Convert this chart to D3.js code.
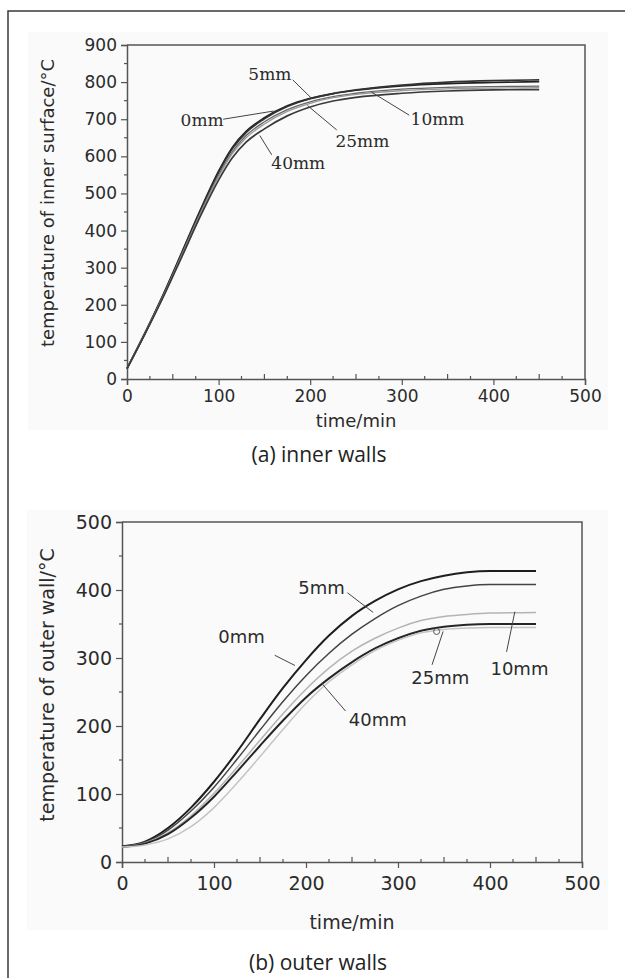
<!DOCTYPE html>
<html>
<head>
<meta charset="utf-8">
<script src="https://cdn.jsdelivr.net/npm/d3@7"></script>
<style>
  body { margin: 0; background: #fff; }
  svg { display: block; }
</style>
</head>
<body>
<svg id="fig" width="625" height="978"></svg>
<script>
'use strict';

// ---- data ----
var seriesNames = ['0mm', '5mm', '10mm', '25mm', '40mm'];

// (a) inner walls
var innerTime = [0, 20, 40, 60, 80, 100, 115, 130, 150, 175, 200, 225, 250, 300, 350, 400, 450];
var inner0  = [28, 126, 230, 342, 455, 560, 624, 667, 704, 736, 756, 769, 778, 790, 796, 799, 801];
var inner5  = [28, 125, 228, 340, 452, 556, 620, 664, 701, 734, 755, 769, 779, 792, 800, 804, 806];
var inner10 = [28, 124, 226, 336, 447, 549, 612, 656, 693, 726, 747, 761, 770, 781, 786, 788, 789];
var inner25 = [28, 124, 225, 334, 444, 545, 607, 650, 687, 721, 743, 758, 767, 777, 782, 784, 785];
var inner40 = [28, 123, 223, 330, 438, 536, 596, 638, 674, 709, 733, 749, 759, 770, 776, 779, 780];

// (b) outer walls
var outerTime = [0, 25, 50, 75, 100, 125, 150, 175, 200, 225, 250, 275, 300, 325, 350, 375, 400, 450];
var outer0  = [23, 30, 50, 80, 118, 162, 210, 256, 297, 333, 362, 384, 401, 413, 421, 426, 428, 428];
var outer5  = [23, 29, 47, 75, 110, 151, 194, 236, 274, 307, 335, 358, 377, 391, 401, 406, 408, 408];
var outer10 = [22, 28, 43, 68, 101, 139, 179, 218, 254, 285, 310, 329, 344, 355, 361, 364, 366, 367];
var outer25 = [22, 27, 41, 65, 96, 133, 171, 208, 242, 270, 294, 314, 329, 340, 346, 349, 350, 350];
var outer40 = [22, 25, 34, 52, 80, 116, 155, 195, 233, 265, 290, 311, 326, 337, 342, 344, 345, 345];

var xTicks = [0, 100, 200, 300, 400, 500];
var innerYTicks = [0, 100, 200, 300, 400, 500, 600, 700, 800, 900];
var outerYTicks = [0, 100, 200, 300, 400, 500];

// labels with leader lines, in data units: [label, textX, textY, lineX1, lineY1, lineX2, lineY2]
var innerNotes = [
  ['0mm', 82, 698, 105, 700, 160, 722],
  ['5mm', 156, 822, 181, 806, 202, 755],
  ['25mm', 257, 641, 229, 671, 197, 737],
  ['40mm', 187, 582, 158, 604, 145, 656],
  ['10mm', 339, 700, 308, 711, 267, 773]
];
var outerNotes = [
  ['5mm', 217, 404, 245, 396, 273, 367],
  ['0mm', 130, 331, 166, 304, 188, 289],
  ['25mm', 346, 271, 337, 290, 349, 339],
  ['10mm', 432, 285, 418, 309, 427, 368],
  ['40mm', 278, 209, 243, 222, 217, 263]
];

var svg = d3.select('#fig');
var ink = '#2b2b2b';

// outer frame of the figure (cropped on the right and bottom)
svg.append('path')
    .attr('d', 'M625,11H8V978')
    .attr('fill', 'none')
    .attr('stroke', '#3a3a3a')
    .attr('stroke-width', 1.5);

function drawPanel(cfg) {
  var g = svg.append('g');

  g.append('rect')
      .attr('x', cfg.bg[0]).attr('y', cfg.bg[1])
      .attr('width', cfg.bg[2]).attr('height', cfg.bg[3])
      .attr('fill', '#fafafa');

  var x = d3.scaleLinear().domain([0, 500]).range([cfg.left, cfg.right]);
  var y = d3.scaleLinear().domain([0, cfg.yMax]).range([cfg.bottom, cfg.top]);

  // minor ticks
  var minorX = d3.range(25, 500, 25).filter(function(v) { return v % 100 !== 0; });
  g.selectAll('.mx').data(minorX).enter().append('line')
      .attr('x1', function(d) { return x(d); })
      .attr('x2', function(d) { return x(d); })
      .attr('y1', cfg.bottom)
      .attr('y2', function(d) { return cfg.bottom - (d % 50 === 0 ? 5 : 3); })
      .attr('stroke', '#555').attr('stroke-width', 1.2);
  var minorY = d3.range(50, cfg.yMax, 100);
  g.selectAll('.my').data(minorY).enter().append('line')
      .attr('x1', cfg.left - 3).attr('x2', cfg.left)
      .attr('y1', function(d) { return y(d); })
      .attr('y2', function(d) { return y(d); })
      .attr('stroke', '#555').attr('stroke-width', 1.2);

  // axes
  var xAxis = g.append('g')
      .attr('transform', 'translate(0,' + cfg.bottom + ')')
      .call(d3.axisBottom(x).tickValues(xTicks).tickSize(6).tickPadding(cfg.xPad));
  var yAxis = g.append('g')
      .attr('transform', 'translate(' + cfg.left + ',0)')
      .call(d3.axisLeft(y).tickValues(cfg.yTicks).tickSize(6).tickPadding(4));
  [xAxis, yAxis].forEach(function(a) {
    a.select('.domain').attr('stroke', '#555').attr('stroke-width', 1.5);
    a.selectAll('.tick line').attr('stroke', '#555').attr('stroke-width', 1.2);
    a.selectAll('.tick text')
        .attr('fill', ink)
        .style('font-family', 'DejaVu Sans')
        .style('font-size', cfg.tickSize + 'px');
  });

  // top and right frame
  g.append('path')
      .attr('d', 'M' + cfg.left + ',' + cfg.top + 'H' + cfg.right + 'V' + cfg.bottom)
      .attr('fill', 'none')
      .attr('stroke', '#555')
      .attr('stroke-width', 1.5);

  // axis titles
  g.append('text')
      .attr('x', (cfg.left + cfg.right) / 2)
      .attr('y', cfg.bottom + cfg.xTitleOff)
      .attr('text-anchor', 'middle')
      .attr('fill', ink)
      .style('font-family', 'DejaVu Sans')
      .style('font-size', cfg.titleSize + 'px')
      .text('time/min');
  g.append('text')
      .attr('transform', 'translate(54,' + cfg.yTitleMid + ') rotate(-90)')
      .attr('text-anchor', 'middle')
      .attr('fill', ink)
      .style('font-family', 'DejaVu Sans')
      .style('font-size', cfg.titleSize + 'px')
      .text(cfg.yTitle);

  // curves
  var line = d3.line()
      .x(function(d) { return x(d[0]); })
      .y(function(d) { return y(d[1]); })
      .curve(d3.curveMonotoneX);
  cfg.series.forEach(function(vals, i) {
    var pts = cfg.time.map(function(t, j) { return [t, vals[j]]; });
    g.append('path')
        .datum(pts)
        .attr('d', line)
        .attr('fill', 'none')
        .attr('stroke', cfg.colors[i])
        .attr('stroke-width', cfg.widths[i]);
  });

  // annotations
  cfg.notes.forEach(function(n) {
    g.append('line')
        .attr('x1', x(n[3])).attr('y1', y(n[4]))
        .attr('x2', x(n[5])).attr('y2', y(n[6]))
        .attr('stroke', '#444').attr('stroke-width', 1);
    g.append('text')
        .attr('x', x(n[1])).attr('y', y(n[2]))
        .attr('text-anchor', 'middle')
        .attr('dominant-baseline', 'central')
        .attr('fill', ink)
        .style('font-family', cfg.noteFont)
        .style('font-size', cfg.noteSize + 'px')
        .text(n[0]);
  });

  if (cfg.mark) {
    g.append('circle')
        .attr('cx', x(cfg.mark[0])).attr('cy', y(cfg.mark[1]))
        .attr('r', 3)
        .attr('fill', 'none')
        .attr('stroke', '#555').attr('stroke-width', 1);
  }

  // caption
  svg.append('text')
      .attr('x', cfg.capX)
      .attr('y', cfg.capY)
      .attr('text-anchor', 'middle')
      .attr('fill', '#222')
      .style('font-family', 'Open Sans')
      .style('font-size', '21px')
      .text(cfg.caption);
}

drawPanel({
  bg: [28, 32, 580, 398],
  left: 127, right: 585, top: 45, bottom: 379,
  yMax: 900, yTicks: innerYTicks,
  time: innerTime,
  series: [inner0, inner5, inner10, inner25, inner40],
  colors: ['#222', '#333', '#666', '#999', '#3a3a3a'],
  widths: [1.7, 1.6, 1.3, 1.3, 1.7],
  notes: innerNotes, noteFont: 'DejaVu Serif', noteSize: 17,
  tickSize: 17, titleSize: 18, xPad: 5, xTitleOff: 48,
  yTitle: 'temperature of inner surface/\u00b0C', yTitleMid: 203,
  caption: '(a) inner walls', capX: 319, capY: 462
});

drawPanel({
  bg: [27, 510, 581, 420],
  left: 122, right: 582, top: 522, bottom: 862,
  yMax: 500, yTicks: outerYTicks,
  time: outerTime,
  series: [outer0, outer5, outer10, outer25, outer40],
  colors: ['#1e1e1e', '#444', '#b4b4b4', '#262626', '#c4c4c4'],
  widths: [2, 1.5, 1.5, 2, 1.5],
  notes: outerNotes, noteFont: 'DejaVu Sans', noteSize: 18,
  tickSize: 19, titleSize: 19, xPad: 9, xTitleOff: 67,
  yTitle: 'temperature of outer wall/\u00b0C', yTitleMid: 685,
  mark: [342, 339],
  caption: '(b) outer walls', capX: 318, capY: 970
});
</script>
</body>
</html>
